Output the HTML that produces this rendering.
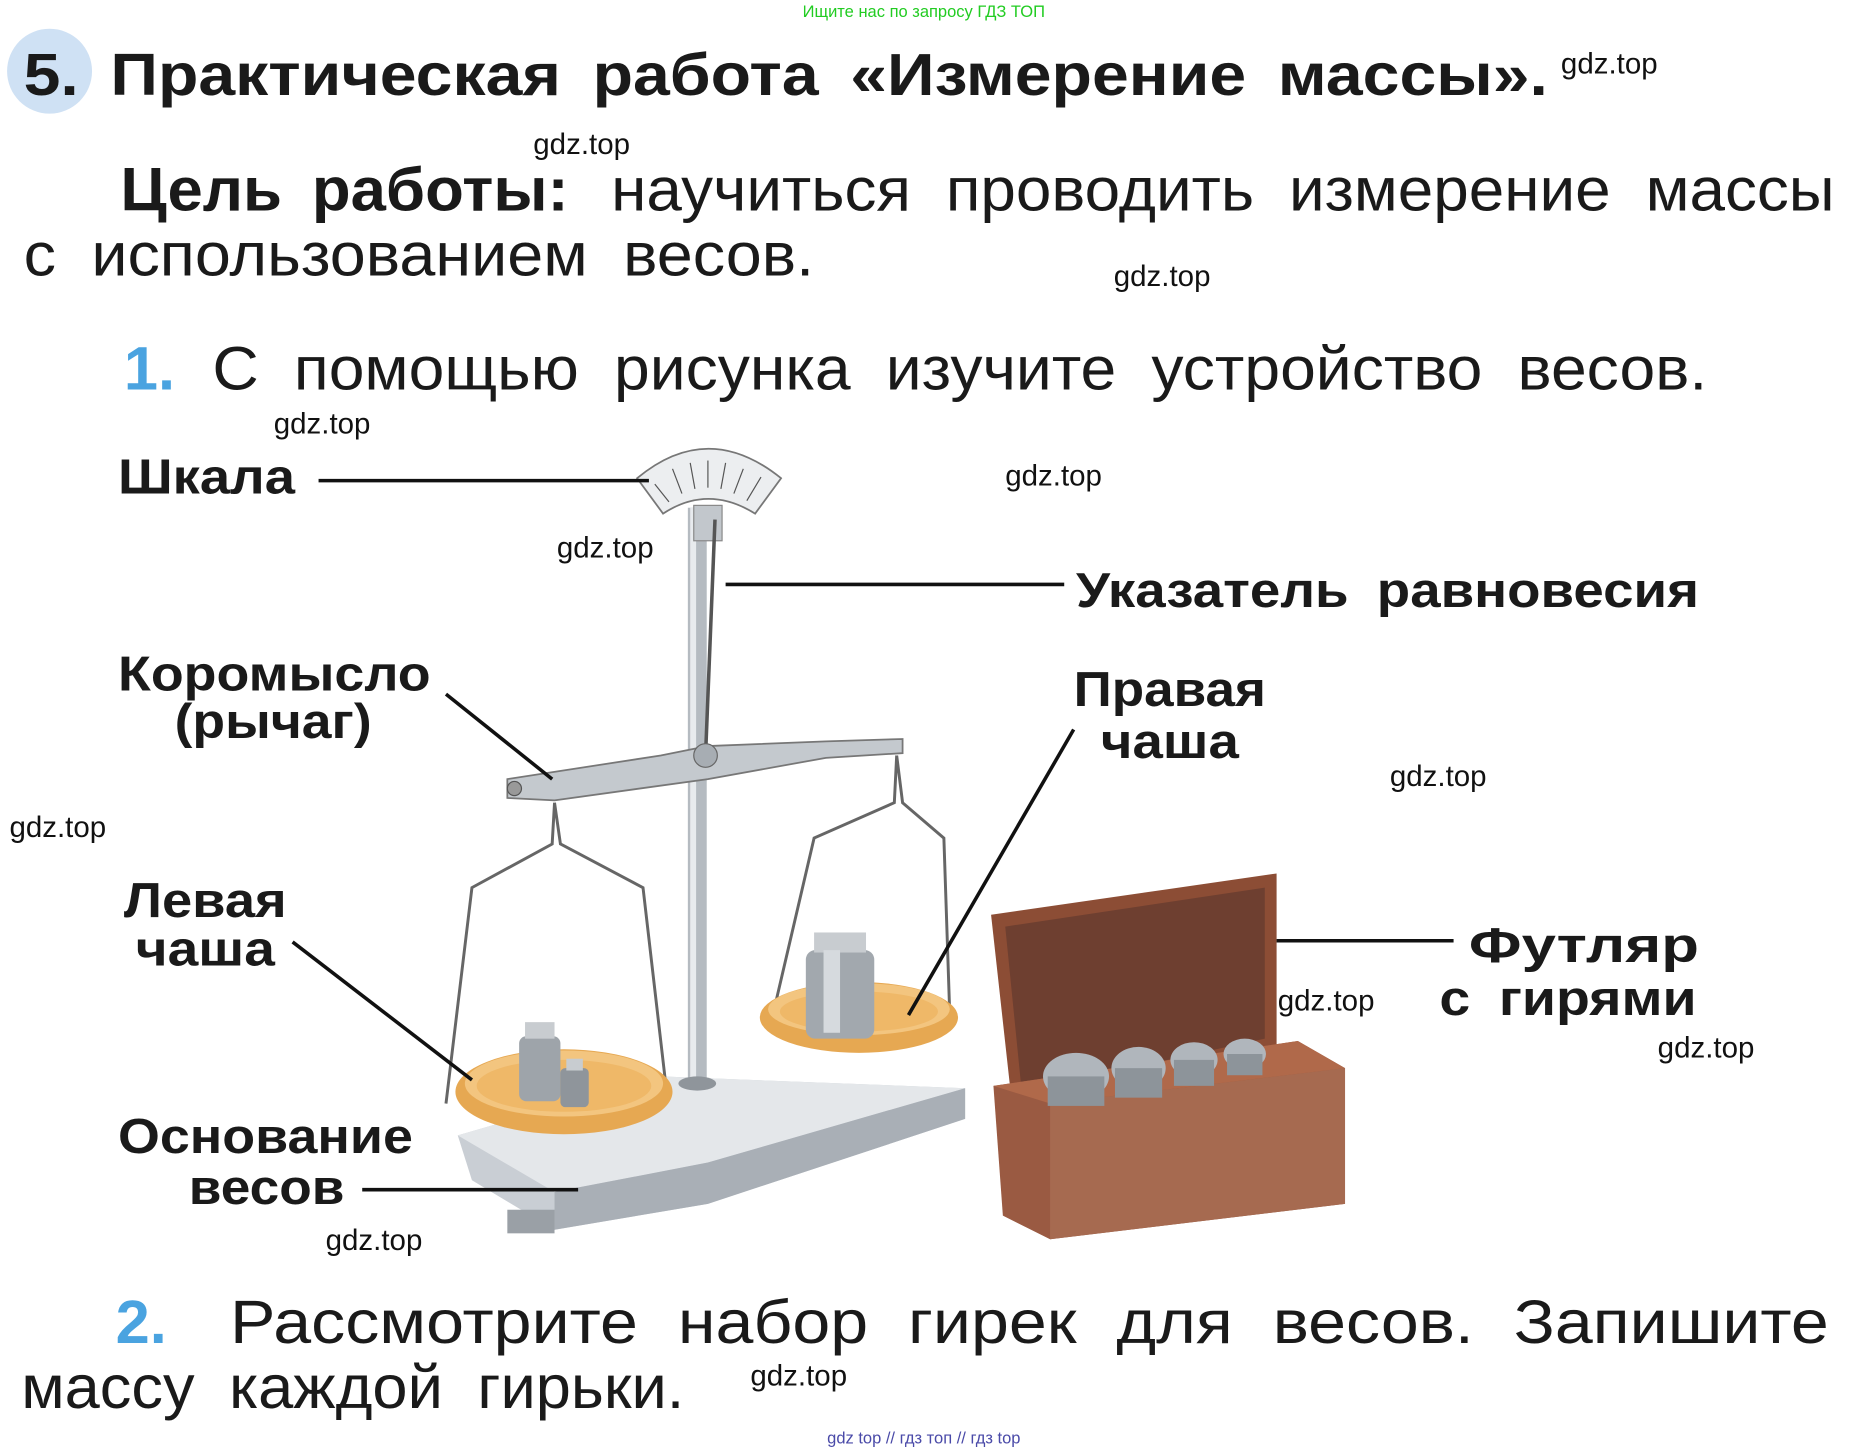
<!DOCTYPE html>
<html><head><meta charset="utf-8"><style>
html,body{margin:0;padding:0;background:#fff;}
svg{display:block;}
text{font-family:"Liberation Sans","DejaVu Sans",sans-serif;}
.b{font-weight:bold;fill:#1a1a1a;}
.n{fill:#1a1a1a;}
.w{font-size:25px;fill:#111;}
</style></head><body>
<svg width="1850" height="1452" viewBox="0 0 1568 1230" xmlns="http://www.w3.org/2000/svg">
<rect width="1568" height="1230" fill="#fff"/>
<text x="783" y="14" font-size="14" fill="#22cc22" text-anchor="middle">Ищите нас по запросу ГДЗ ТОП</text>
<circle cx="42" cy="60" r="36" fill="#cfe1f4"/>
<text class="b" x="20" y="80" font-size="50" word-spacing="10" textLength="1292" lengthAdjust="spacingAndGlyphs">5. Практическая работа «Измерение массы».</text>
<text class="b" x="102" y="178" font-size="52" word-spacing="10" textLength="380" lengthAdjust="spacingAndGlyphs">Цель работы:</text>
<text class="n" x="518" y="178" font-size="52" word-spacing="14" textLength="1037" lengthAdjust="spacingAndGlyphs">научиться проводить измерение массы</text>
<text class="n" x="20" y="233" font-size="52" word-spacing="14" textLength="670" lengthAdjust="spacingAndGlyphs">с использованием весов.</text>
<text x="105" y="330" font-size="52" font-weight="bold" fill="#4aa3e0">1.</text>
<text class="n" x="180" y="330" font-size="52" word-spacing="14" textLength="1267" lengthAdjust="spacingAndGlyphs">С помощью рисунка изучите устройство весов.</text>

<g>
<polygon points="388,962 560,912 818,922 818,948 600,1020 470,1042 400,1000" fill="#c9ced4"/>
<polygon points="388,962 560,912 818,922 600,985 470,1010" fill="#e4e7ea"/>
<polygon points="470,1010 600,985 818,922 818,948 600,1020 470,1042" fill="#a9afb6"/>
<rect x="430" y="1025" width="40" height="20" fill="#9aa0a6"/>
<rect x="583" y="430" width="16" height="490" fill="#b5bbc1"/>
<rect x="585" y="430" width="5" height="490" fill="#e8ebee"/>
<ellipse cx="591" cy="918" rx="16" ry="6" fill="#8f959b"/>
<path d="M540,405 Q600,355 662,405 L640,435 Q600,410 562,435 Z" fill="#eceef0" stroke="#777" stroke-width="1.5"/>
<g stroke="#555" stroke-width="1">
<line x1="555" y1="410" x2="567" y2="425"/><line x1="570" y1="397" x2="578" y2="418"/><line x1="585" y1="392" x2="589" y2="414"/><line x1="600" y1="390" x2="600" y2="413"/><line x1="615" y1="392" x2="611" y2="414"/><line x1="630" y1="397" x2="622" y2="418"/><line x1="645" y1="404" x2="633" y2="424"/>
</g>
<rect x="588" y="428" width="24" height="30" fill="#c2c7cc" stroke="#888"/>
<line x1="606" y1="440" x2="598" y2="640" stroke="#555" stroke-width="3"/>
<path d="M430,660 L560,640 L600,632 L700,628 L765,626 L765,638 L700,642 L600,660 L470,678 L430,676 Z" fill="#c4c9ce" stroke="#777" stroke-width="1.5"/>
<circle cx="598" cy="640" r="10" fill="#a7adb3" stroke="#666"/>
<circle cx="436" cy="668" r="6" fill="#999" stroke="#555"/>
<path d="M470,680 L468,715 L400,752 L378,935 M470,680 L475,715 L545,752 L565,925" fill="none" stroke="#666" stroke-width="2.5"/>
<path d="M760,640 L758,680 L690,710 L655,860 M760,640 L765,680 L800,710 L805,860" fill="none" stroke="#666" stroke-width="2.5"/>
<ellipse cx="478" cy="925" rx="92" ry="36" fill="#e6a852"/>
<ellipse cx="478" cy="918" rx="84" ry="28" fill="#f3c57f"/>
<ellipse cx="478" cy="920" rx="74" ry="22" fill="#efb868"/>
<rect x="440" y="878" width="35" height="55" rx="6" fill="#9ea4aa"/>
<rect x="445" y="866" width="25" height="14" fill="#c8ccd0"/>
<rect x="475" y="905" width="24" height="33" rx="4" fill="#8f959b"/>
<rect x="480" y="897" width="14" height="10" fill="#c8ccd0"/>
<ellipse cx="728" cy="862" rx="84" ry="30" fill="#e6a852"/>
<ellipse cx="728" cy="855" rx="77" ry="22" fill="#f3c57f"/>
<ellipse cx="728" cy="857" rx="67" ry="17" fill="#efb868"/>
<rect x="683" y="805" width="58" height="75" rx="8" fill="#a2a8ae"/>
<rect x="690" y="790" width="44" height="17" fill="#c8ccd0"/>
<rect x="698" y="805" width="14" height="70" fill="#d6dade"/>
<polygon points="840,775 1082,740 1082,888 858,938" fill="#8c4d35"/>
<polygon points="852,785 1072,752 1072,880 866,925" fill="#6e3f30"/>
<polygon points="842,920 1100,882 1140,905 1140,1020 890,1050 850,1030" fill="#9a5a42"/>
<polygon points="890,1050 1140,1020 1140,905 890,935" fill="#a66a50"/>
<polygon points="842,920 1100,882 1140,905 890,935" fill="#b0694a"/>
<g fill="#b0b6bc">
<ellipse cx="912" cy="912" rx="28" ry="20"/><ellipse cx="965" cy="905" rx="23" ry="18"/><ellipse cx="1012" cy="898" rx="20" ry="15"/><ellipse cx="1055" cy="893" rx="18" ry="13"/>
</g>
<g fill="#8d949a">
<rect x="888" y="912" width="48" height="25"/><rect x="945" y="905" width="40" height="25"/><rect x="995" y="898" width="34" height="22"/><rect x="1040" y="893" width="30" height="18"/>
</g>
</g>

<g stroke="#111" stroke-width="3">
<line x1="270" y1="407" x2="550" y2="407"/>
<line x1="615" y1="495" x2="902" y2="495"/>
<line x1="378" y1="588" x2="468" y2="660"/>
<line x1="910" y1="618" x2="770" y2="860"/>
<line x1="248" y1="798" x2="400" y2="915"/>
<line x1="1082" y1="797" x2="1232" y2="797"/>
<line x1="307" y1="1008" x2="490" y2="1008"/>
</g>

<g font-size="42">
<text class="b" x="100" y="418" textLength="150" lengthAdjust="spacingAndGlyphs">Шкала</text>
<text class="b" x="912" y="514" word-spacing="10" textLength="528" lengthAdjust="spacingAndGlyphs">Указатель равновесия</text>
<text class="b" x="100" y="585" textLength="265" lengthAdjust="spacingAndGlyphs">Коромысло</text>
<text class="b" x="148" y="625" textLength="167" lengthAdjust="spacingAndGlyphs">(рычаг)</text>
<text class="b" x="910" y="598" textLength="163" lengthAdjust="spacingAndGlyphs">Правая</text>
<text class="b" x="933" y="642" textLength="117" lengthAdjust="spacingAndGlyphs">чаша</text>
<text class="b" x="105" y="777" textLength="138" lengthAdjust="spacingAndGlyphs">Левая</text>
<text class="b" x="115" y="818" textLength="118" lengthAdjust="spacingAndGlyphs">чаша</text>
<text class="b" x="1245" y="815" textLength="195" lengthAdjust="spacingAndGlyphs">Футляр</text>
<text class="b" x="1220" y="860" word-spacing="10" textLength="218" lengthAdjust="spacingAndGlyphs">с гирями</text>
<text class="b" x="100" y="977" textLength="250" lengthAdjust="spacingAndGlyphs">Основание</text>
<text class="b" x="160" y="1020" textLength="132" lengthAdjust="spacingAndGlyphs">весов</text>
</g>

<text x="98" y="1138" font-size="52" font-weight="bold" fill="#4aa3e0">2.</text>
<text class="n" x="195" y="1138" font-size="52" word-spacing="16" textLength="1355" lengthAdjust="spacingAndGlyphs">Рассмотрите набор гирек для весов. Запишите</text>
<text class="n" x="18" y="1193" font-size="52" word-spacing="14" textLength="562" lengthAdjust="spacingAndGlyphs">массу каждой гирьки.</text>

<g class="w">
<text x="1323" y="62">gdz.top</text>
<text x="452" y="130">gdz.top</text>
<text x="944" y="242">gdz.top</text>
<text x="232" y="367">gdz.top</text>
<text x="852" y="411">gdz.top</text>
<text x="472" y="472">gdz.top</text>
<text x="1178" y="666">gdz.top</text>
<text x="8" y="709">gdz.top</text>
<text x="1083" y="856">gdz.top</text>
<text x="1405" y="896">gdz.top</text>
<text x="276" y="1059">gdz.top</text>
<text x="636" y="1174">gdz.top</text>
</g>
<text x="783" y="1223" font-size="14" fill="#4a4aa8" text-anchor="middle">gdz top  //  гдз топ  //  гдз top</text>
</svg>
</body></html>
